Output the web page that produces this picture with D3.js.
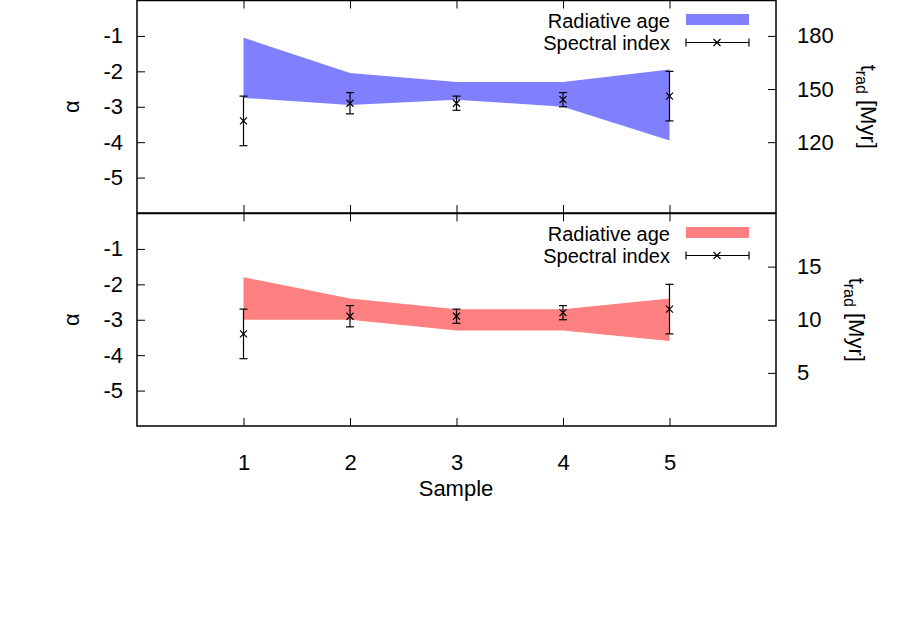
<!DOCTYPE html>
<html>
<head>
<meta charset="utf-8">
<script src="https://cdn.jsdelivr.net/npm/d3@7"></script>
<style>
body { margin: 0; background: #fff; }
text { font-family: "Liberation Sans", Arial, sans-serif; }
</style>
</head>
<body>
<div id="chart"></div>
<script>
// data
let samples = [1, 2, 3, 4, 5];
let sampleTicks = [1, 2, 3, 4, 5];
let alphaVal = [-3.4, -2.9, -2.9, -2.8, -2.7];
let alphaErr = [0.7, 0.3, 0.2, 0.2, 0.7];
let alphaTicks = [-1, -2, -3, -4, -5];

let ageLoTop = [145, 141, 144, 140, 121];
let ageHiTop = [179, 159, 154, 154, 161];
let ageTicksTop = [120, 150, 180];

let ageLoBot = [10, 10, 9, 9, 8];
let ageHiBot = [14, 12, 11, 11, 12];
let ageTicksBot = [5, 10, 15];

let legendNames = ["Radiative age", "Spectral index"];

let W = 913, H = 640;
let left = 137, right = 776;
let fontSize = 22;
let legendFont = 20;

let svg = d3.select("#chart").append("svg")
    .attr("width", W)
    .attr("height", H);

let x = d3.scaleLinear().domain([0, 6]).range([left, right]);
let plain = function (d) { return String(d); };   // gnuplot style "-1", not the unicode minus

let panels = [
    {top: 0.5, bottom: 213, lo: ageLoTop, hi: ageHiTop, ageDomain: [80, 200], ageTicks: ageTicksTop,
        color: "#8080ff", y2labelX: 861, xlabels: false},
    {top: 213.5, bottom: 426, lo: ageLoBot, hi: ageHiBot, ageDomain: [0, 20], ageTicks: ageTicksBot,
        color: "#ff8080", y2labelX: 849, xlabels: true}
];

panels.forEach(function (p) {
    let g = svg.append("g");
    let y = d3.scaleLinear().domain([-6, 0]).range([p.bottom, p.top]);
    let y2 = d3.scaleLinear().domain(p.ageDomain).range([p.bottom, p.top]);

    // radiative age band
    let band = samples.map(function (s, i) { return {x: s, lo: p.lo[i], hi: p.hi[i]}; });
    g.append("path")
        .datum(band)
        .attr("fill", p.color)
        .attr("d", d3.area()
            .x(function (d) { return x(d.x); })
            .y0(function (d) { return y2(d.lo); })
            .y1(function (d) { return y2(d.hi); }));

    // spectral index with error bars
    let pts = samples.map(function (s, i) { return {x: s, v: alphaVal[i], e: alphaErr[i]}; });
    let eb = g.append("g").attr("stroke", "#000").attr("stroke-width", 1.2).attr("fill", "none");
    pts.forEach(function (d) {
        let cx = x(d.x), y0 = y(d.v - d.e), y1 = y(d.v + d.e), cy = y(d.v);
        eb.append("line").attr("x1", cx).attr("x2", cx).attr("y1", y0).attr("y2", y1);
        eb.append("line").attr("x1", cx - 4).attr("x2", cx + 4).attr("y1", y0).attr("y2", y0);
        eb.append("line").attr("x1", cx - 4).attr("x2", cx + 4).attr("y1", y1).attr("y2", y1);
        eb.append("path").attr("d", "M" + (cx - 3.5) + "," + (cy - 3.5) + "l7,7M" + (cx - 3.5) + "," + (cy + 3.5) + "l7,-7");
    });

    // axes, ticks point inwards
    let axL = g.append("g").attr("transform", "translate(" + left + ",0)")
        .call(d3.axisLeft(y).tickValues(alphaTicks).tickSizeInner(-8).tickSizeOuter(0).tickPadding(14)
            .tickFormat(plain));
    let axR = g.append("g").attr("transform", "translate(" + right + ",0)")
        .call(d3.axisRight(y2).tickValues(p.ageTicks).tickSizeInner(-8).tickSizeOuter(0).tickPadding(21)
            .tickFormat(plain));
    let axT = g.append("g").attr("transform", "translate(0," + p.top + ")")
        .call(d3.axisTop(x).tickValues(sampleTicks).tickSizeInner(-8).tickSizeOuter(0).tickFormat(""));
    let axB = g.append("g").attr("transform", "translate(0," + p.bottom + ")")
        .call(d3.axisBottom(x).tickValues(sampleTicks).tickSizeInner(-8).tickSizeOuter(0).tickPadding(28)
            .tickFormat(p.xlabels ? plain : ""));
    [axL, axR, axT, axB].forEach(function (a) {
        a.select(".domain").remove();
        a.selectAll("text").style("font-size", fontSize + "px").attr("fill", "#000")
            .style("font-family", "'Liberation Sans', Arial, sans-serif");
        a.selectAll(".tick line").attr("stroke", "#000");
    });

    // frame
    g.append("rect")
        .attr("x", left).attr("y", p.top)
        .attr("width", right - left).attr("height", p.bottom - p.top)
        .attr("fill", "none").attr("stroke", "#000").attr("stroke-width", 1.5);

    // y label
    let ymid = (p.top + p.bottom) / 2;
    g.append("text")
        .attr("transform", "translate(79," + ymid + ") rotate(-90)")
        .style("text-anchor", "middle")
        .style("font-size", fontSize + "px")
        .text("α");

    // y2 label
    let lab = g.append("text")
        .attr("transform", "translate(" + p.y2labelX + "," + ymid + ") rotate(90)")
        .style("text-anchor", "middle")
        .style("font-size", fontSize + "px");
    lab.append("tspan").text("t");
    lab.append("tspan").attr("dy", 5).style("font-size", "16px").text("rad");
    lab.append("tspan").attr("dy", -5).text(" [Myr]");

    // legend
    let ly = p.top;
    g.append("text").attr("x", 670).attr("y", ly + 27)
        .style("text-anchor", "end").style("font-size", legendFont + "px").text(legendNames[0]);
    g.append("text").attr("x", 670).attr("y", ly + 49.5)
        .style("text-anchor", "end").style("font-size", legendFont + "px").text(legendNames[1]);
    g.append("rect").attr("x", 686).attr("y", ly + 13.5).attr("width", 63).attr("height", 11)
        .attr("fill", p.color);
    let lg = g.append("g").attr("stroke", "#000").attr("stroke-width", 1.2).attr("fill", "none");
    let lyy = ly + 42;
    lg.append("line").attr("x1", 686).attr("x2", 749).attr("y1", lyy).attr("y2", lyy);
    lg.append("line").attr("x1", 686).attr("x2", 686).attr("y1", lyy - 4).attr("y2", lyy + 4);
    lg.append("line").attr("x1", 749).attr("x2", 749).attr("y1", lyy - 4).attr("y2", lyy + 4);
    lg.append("path").attr("d", "M" + (717 - 3.5) + "," + (lyy - 3.5) + "l7,7M" + (717 - 3.5) + "," + (lyy + 3.5) + "l7,-7");
});

// x label
svg.append("text")
    .attr("x", 456).attr("y", 496)
    .style("text-anchor", "middle")
    .style("font-size", fontSize + "px")
    .text("Sample");
</script>
</body>
</html>
